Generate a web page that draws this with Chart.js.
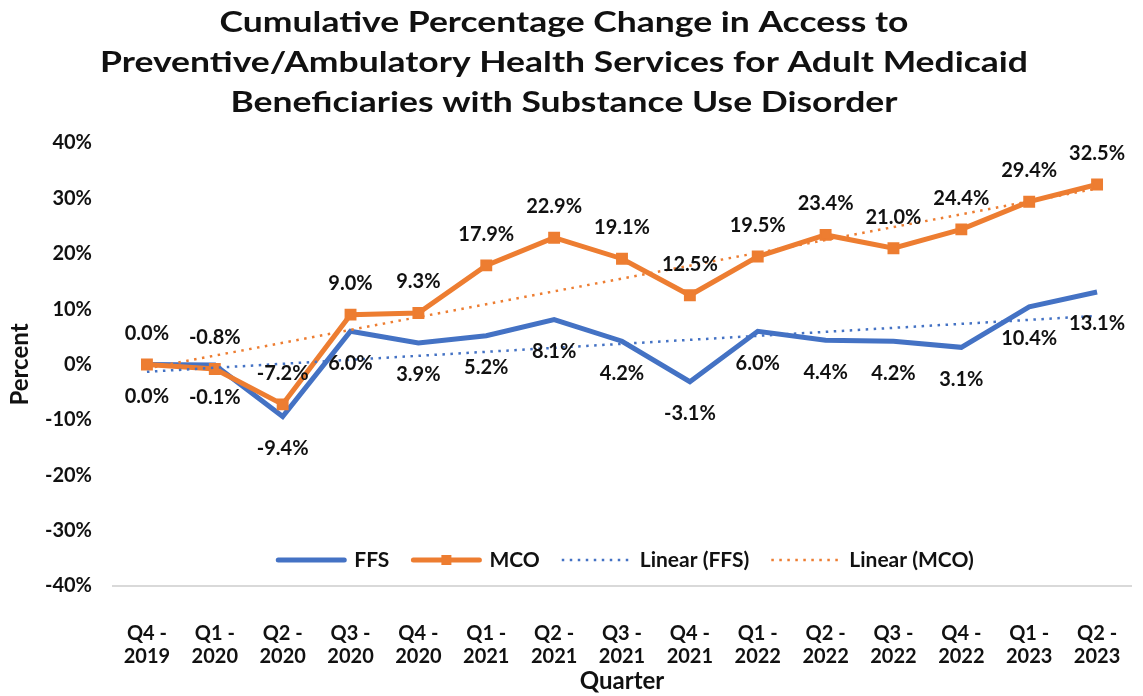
<!DOCTYPE html>
<html>
<head>
<meta charset="utf-8">
<script src="https://cdn.jsdelivr.net/npm/chart.js@4.4.0/dist/chart.umd.min.js"></script>
<style>
html,body{margin:0;padding:0;background:#fff;}
#wrap{width:1143px;height:696px;}
</style>
</head>
<body>
<div id="wrap"><canvas id="c" width="1143" height="696"></canvas></div>
<script>
// ---- data ----
const categories = [
  ["Q4 -","2019"],["Q1 -","2020"],["Q2 -","2020"],["Q3 -","2020"],["Q4 -","2020"],
  ["Q1 -","2021"],["Q2 -","2021"],["Q3 -","2021"],["Q4 -","2021"],["Q1 -","2022"],
  ["Q2 -","2022"],["Q3 -","2022"],["Q4 -","2022"],["Q1 -","2023"],["Q2 -","2023"]
];
const ffsValues = [0.0, -0.1, -9.4, 6.0, 3.9, 5.2, 8.1, 4.2, -3.1, 6.0, 4.4, 4.2, 3.1, 10.4, 13.1];
const mcoValues = [0.0, -0.8, -7.2, 9.0, 9.3, 17.9, 22.9, 19.1, 12.5, 19.5, 23.4, 21.0, 24.4, 29.4, 32.5];
const seriesNames = ["FFS", "MCO", "Linear (FFS)", "Linear (MCO)"];
const yMin = -40, yMax = 40, yStep = 10;
const titleLines = [
  "Cumulative Percentage Change in Access to",
  "Preventive/Ambulatory Health Services for Adult Medicaid",
  "Beneficiaries with Substance Use Disorder"
];
const yAxisTitle = "Percent";
const xAxisTitle = "Quarter";

// least-squares trendline (as Excel "Linear" trendline) derived from a series
function linearTrend(vals) {
  const n = vals.length;
  let sx = 0, sy = 0, sxx = 0, sxy = 0;
  vals.forEach((v, i) => { const x = i + 1; sx += x; sy += v; sxx += x * x; sxy += x * v; });
  const b = (n * sxy - sx * sy) / (n * sxx - sx * sx);
  const a = (sy - b * sx) / n;
  return vals.map((v, i) => a + b * (i + 1));
}

const FONT = "Lato, 'Open Sans', sans-serif";
const BLUE = "#4472C4", ORANGE = "#ED7D31", TXT = "#111111";

const titlePlugin = {
  id: 'titleLines',
  afterDraw(chart) {
    const ctx = chart.ctx;
    ctx.save();
    ctx.fillStyle = TXT;
    ctx.font = "bold 29px " + FONT;
    ctx.textAlign = "center";
    ctx.textBaseline = "alphabetic";
    const widest = Math.max(...titleLines.map(t => ctx.measureText(t).width));
    const sx = 928 / widest;
    ctx.translate(564, 0);
    ctx.scale(sx, 1);
    titleLines.forEach((t, i) => ctx.fillText(t, 0, 32 + i * 40));
    ctx.restore();
  }
};

const dataLabelPlugin = {
  id: 'pointLabels',
  afterDatasetsDraw(chart) {
    const ctx = chart.ctx;
    ctx.save();
    ctx.fillStyle = TXT;
    ctx.font = "bold 20px " + FONT;
    ctx.textAlign = "center";
    ctx.textBaseline = "middle";
    chart.data.datasets.forEach((ds, di) => {
      if (!ds.labelOffset) return;
      const meta = chart.getDatasetMeta(di);
      meta.data.forEach((pt, i) => {
        ctx.fillText(ds.data[i].toFixed(1) + "%", pt.x, pt.y + ds.labelOffset);
      });
    });
    ctx.restore();
  }
};

const legendPlugin = {
  id: 'innerLegend',
  afterDraw(chart) {
    const ctx = chart.ctx;
    const area = chart.chartArea;
    const sample = 70, gapText = 8, gapItem = 22;
    ctx.save();
    ctx.font = "bold 21px " + FONT;
    ctx.textBaseline = "middle";
    const widths = chart.data.datasets.map(ds => ctx.measureText(ds.label).width);
    let total = 0;
    widths.forEach((w, i) => { total += sample + gapText + w + (i < widths.length - 1 ? gapItem : 0); });
    let x = (area.left + area.right) / 2 + 3 - total / 2;
    const y = area.bottom - 26;
    chart.data.datasets.forEach((ds, i) => {
      ctx.save();
      ctx.strokeStyle = ds.borderColor;
      ctx.lineWidth = ds.borderWidth;
      ctx.lineCap = ds.borderDash ? "butt" : "round";
      ctx.setLineDash(ds.borderDash || []);
      ctx.beginPath();
      ctx.moveTo(x + (ds.borderDash ? 0 : 2), y);
      ctx.lineTo(x + sample - (ds.borderDash ? 0 : 2), y);
      ctx.stroke();
      ctx.restore();
      if (ds.pointRadius) {
        ctx.fillStyle = ds.pointBackgroundColor;
        ctx.fillRect(x + sample / 2 - 5, y - 5, 10, 10);
      }
      ctx.fillStyle = TXT;
      ctx.textAlign = "left";
      ctx.fillText(ds.label, x + sample + gapText, y);
      x += sample + gapText + widths[i] + gapItem;
    });
    ctx.restore();
  }
};

new Chart(document.getElementById('c'), {
  type: 'line',
  data: {
    labels: categories,
    datasets: [
      { label: seriesNames[0], data: ffsValues, borderColor: BLUE, backgroundColor: BLUE,
        borderWidth: 5, pointRadius: 0, pointHoverRadius: 0, tension: 0, order: 2,
        labelOffset: 32 },
      { label: seriesNames[1], data: mcoValues, borderColor: ORANGE, backgroundColor: ORANGE,
        borderWidth: 5, pointRadius: 7, pointStyle: 'rect', pointBackgroundColor: ORANGE,
        pointBorderColor: ORANGE, pointBorderWidth: 2, tension: 0, order: 1,
        labelOffset: -31 },
      { label: seriesNames[2], data: linearTrend(ffsValues), borderColor: BLUE,
        borderWidth: 2.5, borderDash: [2.5, 5.5], pointRadius: 0, order: 0 },
      { label: seriesNames[3], data: linearTrend(mcoValues), borderColor: ORANGE,
        borderWidth: 2.5, borderDash: [2.5, 5.5], pointRadius: 0, order: 0 }
    ]
  },
  options: {
    responsive: false,
    animation: false,
    layout: { padding: { top: 143, left: 0, right: 12, bottom: 0 } },
    plugins: { legend: { display: false }, title: { display: false }, tooltip: { enabled: false } },
    scales: {
      x: {
        offset: true,
        grid: { display: false, drawTicks: false },
        border: { display: true, color: '#d9d9d9', width: 2 },
        ticks: { color: TXT, font: { family: FONT, size: 20, weight: 'bold', lineHeight: 1.15 },
                 padding: 36, maxRotation: 0, autoSkip: false },
        title: { display: true, text: xAxisTitle, color: TXT,
                 font: { family: FONT, size: 24, weight: 'bold' }, padding: { top: 0, bottom: 0 } },
        afterFit(s) { s.height = 110; s.paddingLeft = 0; s.paddingRight = 0; }
      },
      y: {
        min: yMin, max: yMax,
        grid: { display: false, drawTicks: false },
        border: { display: false },
        ticks: { stepSize: yStep, color: TXT, padding: 21,
                 font: { family: FONT, size: 20, weight: 'bold' },
                 callback: v => v + "%" },
        title: { display: true, text: yAxisTitle, color: TXT,
                 font: { family: FONT, size: 24, weight: 'bold' }, padding: { top: 6, bottom: 0 } },
        afterFit(s) { s.width = 113; }
      }
    }
  },
  plugins: [titlePlugin, dataLabelPlugin, legendPlugin]
});
</script>
</body>
</html>
